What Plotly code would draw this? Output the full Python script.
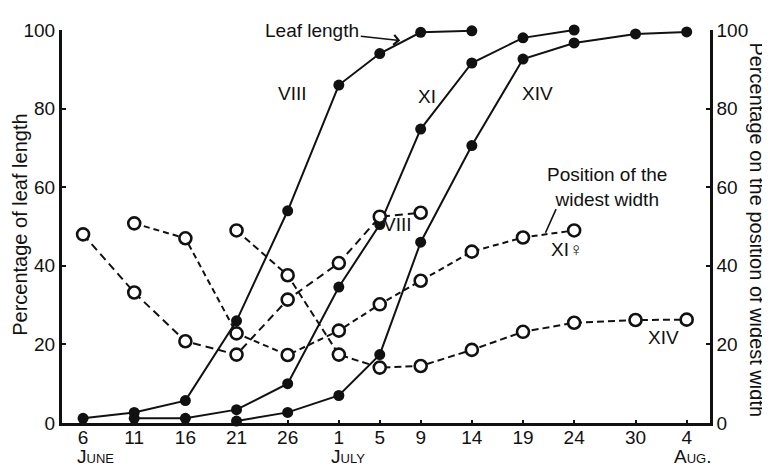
import plotly.graph_objects as go

# ---- data ----
date_labels = ["6", "11", "16", "21", "26", "1", "5", "9", "14", "19", "24", "30", "4"]
days = [0, 5, 10, 15, 20, 25, 29, 33, 38, 43, 48, 54, 59]   # days after 6 June
month_labels = ["June", "July", "Aug."]
month_days = [1.26, 25.9, 59.6]

# leaf length (%), filled circles
len_VIII_days = days[0:9]
len_VIII = [1.2, 2.7, 5.7, 26, 54, 86, 94, 99.4, 99.8]
len_XI_days = days[1:11]
len_XI = [1.2, 1.2, 3.4, 10, 34.6, 50.5, 74.8, 91.6, 98, 100]
len_XIV_days = days[3:13]
len_XIV = [0.5, 2.7, 7.0, 17.4, 46, 70.6, 92.6, 96.7, 99, 99.5]

# position of the widest width (%), open circles
pos_VIII_days = days[0:8]
pos_VIII = [48, 33.2, 20.8, 17.4, 31.4, 40.7, 52.5, 53.5]
pos_XI_days = days[1:11]
pos_XI = [50.8, 47, 22.8, 17.3, 23.5, 30.2, 36.2, 43.6, 47.2, 49]
pos_XIV_days = days[3:13]
pos_XIV = [49, 37.6, 17.4, 14.1, 14.5, 18.6, 23.2, 25.5, 26.2, 26.3]

y_ticks = [0, 20, 40, 60, 80, 100]

FONT = "Liberation Sans"
BLACK = "#111111"
TXT = 19

fig = go.Figure()

def solid(xs, ys, name):
    fig.add_trace(go.Scatter(
        x=xs, y=ys, name=name, mode="lines+markers",
        line=dict(color=BLACK, width=2),
        marker=dict(symbol="circle", size=11, color=BLACK),
        cliponaxis=False, yaxis="y", showlegend=False))

def dashed(xs, ys, name, dash):
    fig.add_trace(go.Scatter(
        x=xs, y=ys, name=name, mode="lines+markers",
        line=dict(color=BLACK, width=2, dash=dash),
        marker=dict(symbol="circle", size=12, color="white",
                    line=dict(width=2.6, color=BLACK)),
        cliponaxis=False, yaxis="y2", showlegend=False))

dashed(pos_VIII_days, pos_VIII, "VIII widest width", "8px,5px")
dashed(pos_XI_days, pos_XI, "XI widest width", "6px,4px")
dashed(pos_XIV_days, pos_XIV, "XIV widest width", "7px,4px")
solid(len_VIII_days, len_VIII, "VIII leaf length")
solid(len_XI_days, len_XI, "XI leaf length")
solid(len_XIV_days, len_XIV, "XIV leaf length")

ann = []
def label(x, y, text, size=TXT):
    ann.append(dict(x=x, y=y, xref="x", yref="y", text=text, showarrow=False,
                    font=dict(family=FONT + ", DejaVu Sans", size=size, color=BLACK)))

label(20.5, 83.9, "VIII")
label(33.6, 83.1, "XI")
label(44.4, 83.9, "XIV")
label(30.7, 50.6, "VIII")
label(47.3, 44.2, "XI♀")
label(56.7, 21.8, "XIV")

# Leaf length with arrow
ann.append(dict(x=31.0, y=97.3, xref="x", yref="y", axref="x", ayref="y",
                ax=22.4, ay=99.75, text="Leaf length", showarrow=True,
                arrowhead=4, arrowsize=1.2, arrowwidth=1.6, arrowcolor=BLACK,
                font=dict(family=FONT, size=TXT, color=BLACK)))
# Position of the widest width
ann.append(dict(x=51.2, y=60.0, xref="x", yref="y", showarrow=False,
                text="Position of the<br>widest width",
                font=dict(family=FONT, size=TXT, color=BLACK)))
ann.append(dict(x=45.2, y=48.4, xref="x", yref="y", axref="x", ayref="y",
                ax=46.3, ay=54.8, text="", showarrow=True, arrowhead=0,
                arrowwidth=1.6, arrowcolor=BLACK))

# month labels (small caps)
for mx, mt in zip(month_days, month_labels):
    ann.append(dict(x=mx, y=-0.086, xref="x", yref="paper", showarrow=False,
                    xanchor="center", yanchor="middle", text=mt,
                    font=dict(family=FONT, size=19, color=BLACK, variant="small-caps")))

# axis titles
ann.append(dict(x=-0.065, y=0.504, xref="paper", yref="paper", showarrow=False,
                xanchor="center", yanchor="middle",
                text="Percentage of leaf length", textangle=-90,
                font=dict(family=FONT, size=20, color=BLACK)))
ann.append(dict(x=1.072, y=0.491, xref="paper", yref="paper", showarrow=False,
                xanchor="center", yanchor="middle",
                text="Percentage on the position of widest width", textangle=90,
                font=dict(family=FONT, size=20, color=BLACK)))

axis_common = dict(showgrid=False, zeroline=False, showline=True, linecolor=BLACK,
                   ticks="inside", tickcolor=BLACK,
                   tickfont=dict(family=FONT, size=19, color=BLACK))

# page body has an 8px margin, so the figure is 8px smaller and margins shifted
fig.update_layout(
    width=762, height=460,
    margin=dict(l=54, r=60, t=12, b=45),
    paper_bgcolor="white", plot_bgcolor="white",
    font=dict(family=FONT, color=BLACK),
    xaxis=dict(range=[-2.06, 61.28], tickvals=days, ticktext=date_labels,
               linewidth=3, ticklen=3, tickwidth=2, ticklabelstandoff=-5,
               **axis_common),
    yaxis=dict(range=[0, 100], tickvals=y_ticks, linewidth=3, ticklen=4,
               tickwidth=2, **axis_common),
    yaxis2=dict(range=[0, 100], tickvals=y_ticks, overlaying="y", side="right",
                linewidth=2.5, ticklen=4, tickwidth=2, **axis_common),
    annotations=ann,
)

fig.write_html("out.html")
